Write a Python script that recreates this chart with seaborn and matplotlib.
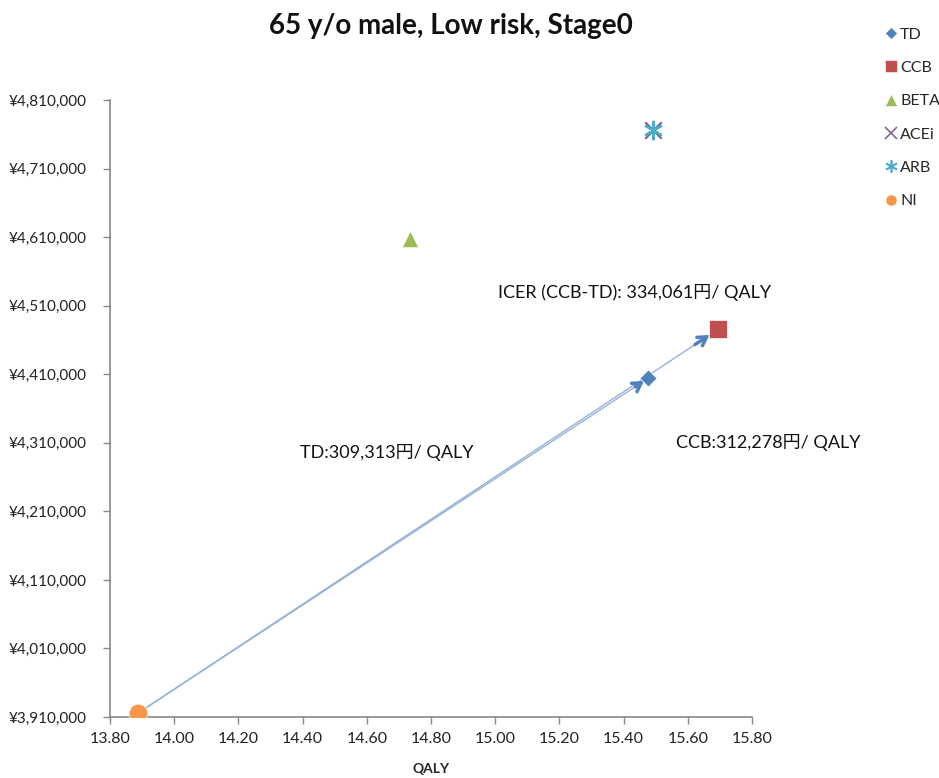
import matplotlib
matplotlib.use("Agg")
import matplotlib.pyplot as plt
import seaborn as sns
import pandas as pd
from matplotlib.ticker import FuncFormatter, MultipleLocator, FixedLocator
from matplotlib.lines import Line2D

# ---- data ----
strategies = ["TD", "CCB", "BETA", "ACEi", "ARB", "NI"]
qaly = [15.476, 15.694, 14.735, 15.492, 15.492, 13.888]
cost = [4404000, 4475600, 4608000, 4765700, 4765700, 3915800]
colors = ["#4F81BD", "#C0504D", "#9BBB59", "#8064A2", "#4BACC6", "#F79646"]
markers = ["D", "s", "^", "x", (6, 2, 0), "o"]
sizes = [75, 150, 140, 140, 160, 180]
y_ticks = [3910000, 4010000, 4110000, 4210000, 4310000, 4410000,
           4510000, 4610000, 4710000, 4810000]
title = "65 y/o male, Low risk, Stage0"
ann_icer = "ICER (CCB-TD): 334,061円/ QALY"
ann_td = "TD:309,313円/ QALY"
ann_ccb = "CCB:312,278円/ QALY"

df = pd.DataFrame({"strategy": strategies, "QALY": qaly, "cost": cost})

sns.set_theme(style="white")
fam = ["Lato", "Noto Sans CJK JP", "DejaVu Sans"]
plt.rcParams["font.family"] = fam

fig = plt.figure(figsize=(9.39, 7.78), dpi=100)
ax = fig.add_axes([0.117, 0.0784, 0.684, 0.793])

pal = dict(zip(strategies, colors))
mk = dict(zip(strategies, markers))

# arrows from NI to TD and CCB
ni = (qaly[5], cost[5])
line_col = "#95B3D7"
head_col = "#4F81BD"
for i in (0, 1):
    tgt = (qaly[i], cost[i])
    ax.annotate("", xy=tgt, xytext=ni,
                arrowprops=dict(arrowstyle="-", color=line_col, lw=1.0,
                                shrinkA=2, shrinkB=6), zorder=1)
    dx = tgt[0] - ni[0]
    dy = tgt[1] - ni[1]
    t0 = 0.975 if i == 0 else 0.96
    t1 = 0.992 if i == 0 else 0.985
    ax.annotate("", xy=(ni[0] + dx * t1, ni[1] + dy * t1),
                xytext=(ni[0] + dx * t0, ni[1] + dy * t0),
                arrowprops=dict(arrowstyle="->,head_length=0.5,head_width=0.3",
                                color=head_col, lw=2.5, shrinkA=0, shrinkB=0),
                zorder=2)

for s in strategies:
    sub = df[df.strategy == s]
    m = mk[s]
    kw = dict(edgecolor="white", linewidth=0.5) if s not in ("ACEi", "ARB") else dict(linewidth=1.6)
    sns.scatterplot(data=sub, x="QALY", y="cost", color=pal[s], marker=m,
                    s=sizes[strategies.index(s)], ax=ax, legend=False, zorder=3, **kw)

ax.set_xlim(13.8, 15.8)
ax.set_ylim(y_ticks[0], y_ticks[-1])
ax.xaxis.set_major_locator(MultipleLocator(0.2))
ax.yaxis.set_major_locator(FixedLocator(y_ticks))
ax.xaxis.set_major_formatter(FuncFormatter(lambda v, p: f"{v:.2f}"))
ax.yaxis.set_major_formatter(FuncFormatter(lambda v, p: f"¥{v:,.0f}"))
ax.tick_params(axis="both", length=5, direction="out", width=1,
               bottom=True, left=True, colors="#888888", labelcolor="#222222")
ax.tick_params(axis="y", pad=12, labelsize=11)
ax.tick_params(axis="x", pad=6, labelsize=11.5)
for sp in ("top", "right"):
    ax.spines[sp].set_visible(False)
for sp in ("left", "bottom"):
    ax.spines[sp].set_color("#888888")
    ax.spines[sp].set_linewidth(1.2)
ax.set_ylabel("")
ax.set_xlabel("QALY", fontsize=10, fontweight="bold", labelpad=12)

fig.text(0.48, 0.966, title, ha="center", va="center", fontsize=20,
         fontweight="bold", color="#111111")

ax.text(15.009, 4529900, ann_icer, fontsize=13, va="center", ha="left", color="#111111")
ax.text(14.392, 4296500, ann_td, fontsize=13, va="center", ha="left", color="#111111")
ax.text(15.563, 4311100, ann_ccb, fontsize=13, va="center", ha="left", color="#111111")

handles = []
for s, c, m in zip(strategies, colors, markers):
    if s in ("ACEi", "ARB"):
        h = Line2D([], [], ls="", marker=m, color=c, markersize=9, markeredgewidth=1.2)
    else:
        h = Line2D([], [], ls="", marker=m, color=c, markersize=8 if s != "TD" else 6.5,
                   markeredgecolor="white", markeredgewidth=0.4)
    handles.append(h)
leg = fig.legend(handles, strategies, loc="upper left", bbox_to_anchor=(0.934, 0.973),
                 frameon=False, fontsize=11.5, handletextpad=0.05, labelspacing=1.2,
                 handlelength=1.0, borderaxespad=0)

fig.savefig("out.png", dpi=100)
